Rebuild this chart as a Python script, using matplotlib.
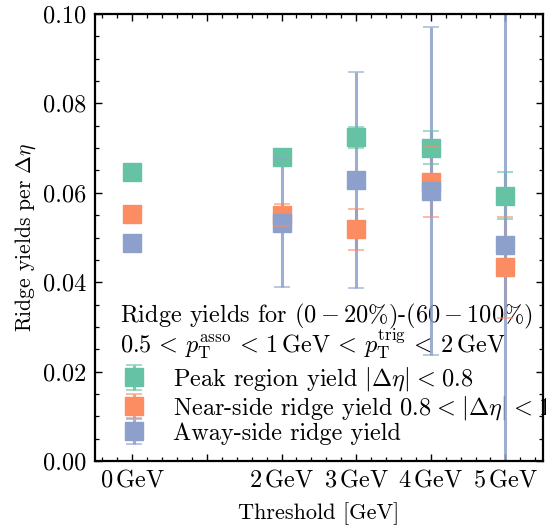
import numpy as np
import matplotlib
matplotlib.use('Agg')
import matplotlib.pyplot as plt
from matplotlib.colors import to_rgba
from matplotlib.ticker import MultipleLocator, FormatStrFormatter

plt.rcParams['font.family'] = 'serif'
plt.rcParams['font.serif'] = ['cmr10']
plt.rcParams['mathtext.fontset'] = 'cm'
plt.rcParams['axes.formatter.use_mathtext'] = True
plt.rcParams['axes.unicode_minus'] = False
plt.rcParams['font.size'] = 17.5

# thresholds [GeV]
thresholds = [0, 2, 3, 4, 5]
tick_pos = [0, 1, 2, 3, 4, 5]
tick_labels = [r'$0\,\mathrm{GeV}$', '', r'$2\,\mathrm{GeV}$', r'$3\,\mathrm{GeV}$',
               r'$4\,\mathrm{GeV}$', r'$5\,\mathrm{GeV}$']

peak_vals = [0.0647, 0.0681, 0.0724, 0.0701, 0.0594]
peak_errs = [0.0004, 0.0005, 0.0023, 0.0037, 0.0053]

near_vals = [0.0553, 0.0551, 0.0518, 0.0624, 0.0433]
near_errs = [0.0004, 0.0025, 0.0045, 0.0079, 0.0113]

away_vals = [0.0488, 0.0533, 0.0629, 0.0605, 0.0484]
away_errs = [0.0004, 0.0143, 0.0242, 0.0367, 0.0750]

sp = r'\hspace{0.08}'
labels = [r'Peak region yield $|\Delta\eta|' + sp + '<' + sp + '0.8$',
          r'Near-side ridge yield $0.8' + sp + '<' + sp + r'|\Delta\eta|' + sp + '<' + sp + '1.6$',
          'Away-side ridge yield']
colors = ['#66c2a5', '#fc8d62', '#8da0cb']

title1 = 'Ridge yields for $(0-20\\%)$-$(60-100\\%)$'
title2 = (r'$0.5\,<\,p_{\mathrm{T}}^{\mathrm{asso}}\,<\,1\,\mathrm{GeV}\,<\,'
          r'p_{\mathrm{T}}^{\mathrm{trig}}\,<\,2\,\mathrm{GeV}$')

fig = plt.figure(figsize=(5.46, 5.29), dpi=100)
ax = fig.add_axes([0.174, 0.1285, 0.820, 0.845])

series = [(peak_vals, peak_errs), (near_vals, near_errs), (away_vals, away_errs)]
handles = []
for i, (v, e) in enumerate(series):
    c = colors[i]
    h = ax.errorbar(thresholds, v, yerr=e, fmt='s', color=c, ms=13.5,
                    ecolor=to_rgba(c, 0.85), elinewidth=2.2, capsize=5.8,
                    capthick=1.4, label=labels[i])
    h[0].set_zorder(3 + i)
    for cl in h[1]:
        cl.set_zorder(6)
        cl.set_alpha(0.6)
    for bl in h[2]:
        bl.set_zorder(2)
    handles.append(h)

ax.set_xlim(-0.5, 5.5)
ax.set_ylim(0.0, 0.10)
ax.set_xticks(tick_pos)
ax.set_xticklabels(tick_labels)
ax.xaxis.set_minor_locator(MultipleLocator(0.2))
ax.yaxis.set_major_locator(MultipleLocator(0.02))
ax.yaxis.set_minor_locator(MultipleLocator(0.005))
ax.yaxis.set_major_formatter(FormatStrFormatter('%.2f'))
ax.tick_params(which='both', direction='in', top=True, right=True)
ax.tick_params(which='major', length=5, width=1.0, pad=6)
ax.tick_params(which='minor', length=2.8, width=0.9)
for s in ax.spines.values():
    s.set_linewidth(1.6)

ax.set_xlabel('Threshold [GeV]', fontsize=16, labelpad=8)
ax.set_ylabel(r'Ridge yields per $\Delta\eta$', fontsize=15.5, labelpad=4)

# legend title lines drawn as plain text, under the error bars
ax.text(0.0558, 0.3095, title1, transform=ax.transAxes, va='baseline', ha='left',
        clip_on=False, zorder=1)
ax.text(0.0558, 0.2416, title2, transform=ax.transAxes, va='baseline', ha='left',
        clip_on=False, zorder=1)

leg = ax.legend(handles=handles, loc='lower left',
                bbox_to_anchor=(0.055, 0.036), frameon=False,
                handlelength=1.2, handletextpad=1.0, labelspacing=0.02,
                borderpad=0, borderaxespad=0)
leg.set_zorder(1)

fig.savefig('out.png', dpi=100)
